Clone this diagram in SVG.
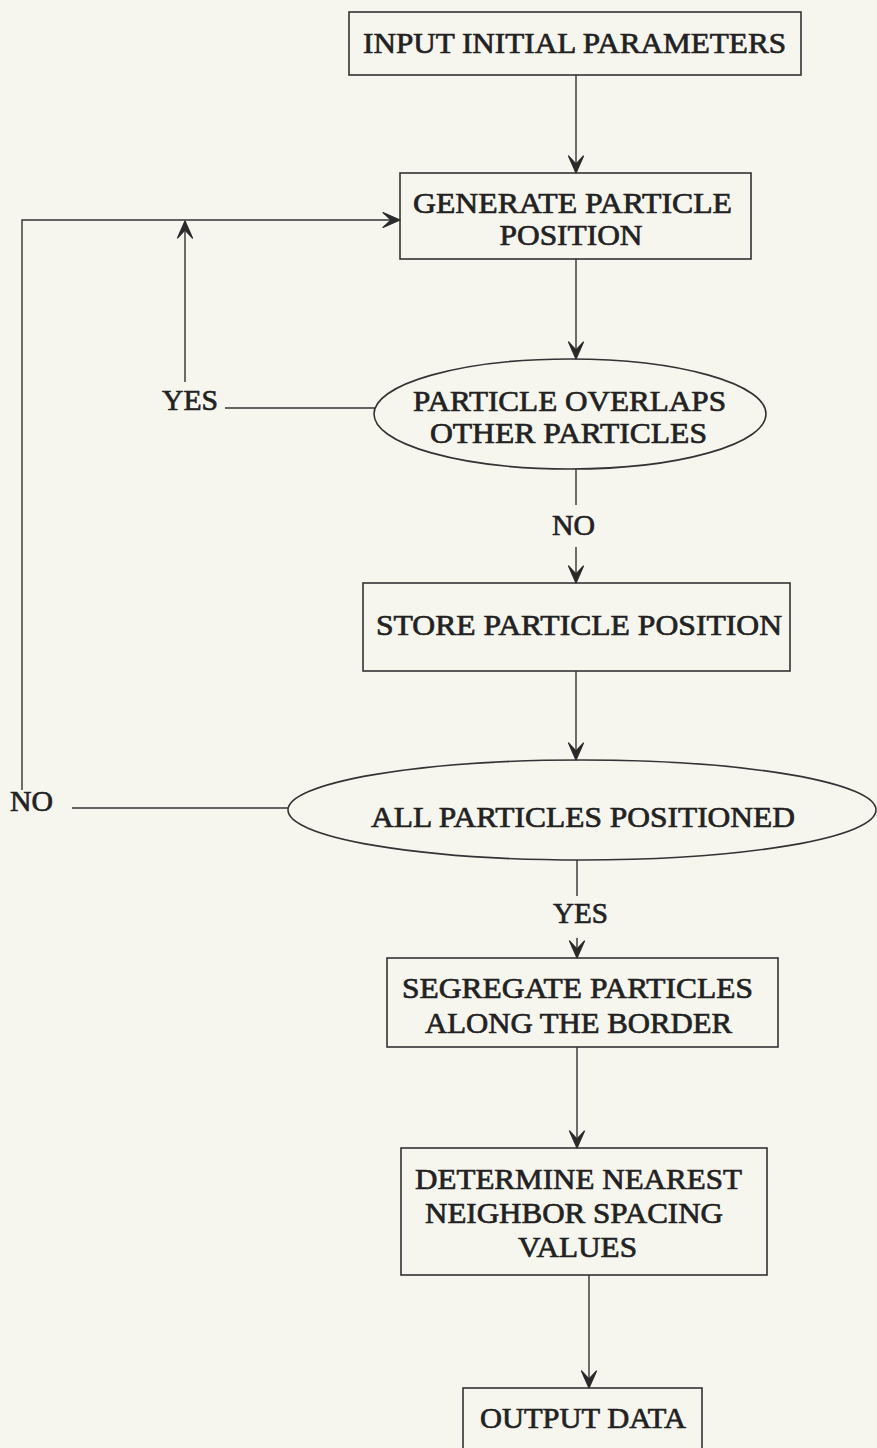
<svg xmlns="http://www.w3.org/2000/svg" width="877" height="1448" viewBox="0 0 877 1448">
<style>
.box{fill:none;stroke:#333;stroke-width:1.6}
.ln{fill:none;stroke:#333;stroke-width:1.4}
.t{font-family:"Liberation Serif","Times New Roman",serif;font-size:30px;fill:#222;stroke:#222;stroke-width:0.7;text-anchor:middle}
.tl{font-family:"Liberation Serif","Times New Roman",serif;font-size:30px;fill:#222;stroke:#222;stroke-width:0.7;text-anchor:start}
</style>
<defs>
<marker id="ah" viewBox="-20 -10 22 20" markerWidth="22" markerHeight="20" refX="0" refY="0" orient="auto-start-reverse" markerUnits="userSpaceOnUse">
<path d="M0,0 L-17,-7.5 L-10,-1 L-9,0 L-10,1 L-17,7.5 Z" fill="#2a2a2a" stroke="#2a2a2a" stroke-width="1.2" stroke-linejoin="round"/>
</marker>
</defs>
<rect x="0" y="0" width="877" height="1448" fill="#f6f5ee"/>
<g id="connectors">
<line class="ln" x1="576" y1="75" x2="576" y2="173" marker-end="url(#ah)"/>
<line class="ln" x1="576" y1="259" x2="576" y2="359" marker-end="url(#ah)"/>
<line class="ln" x1="225" y1="408" x2="375" y2="408"/>
<line class="ln" x1="185" y1="382" x2="185" y2="221" marker-end="url(#ah)"/>
<polyline class="ln" points="22,790 22,220 400,220" marker-end="url(#ah)"/>
<line class="ln" x1="576" y1="469" x2="576" y2="505"/>
<line class="ln" x1="576" y1="547" x2="576" y2="583" marker-end="url(#ah)"/>
<line class="ln" x1="576" y1="671" x2="576" y2="760" marker-end="url(#ah)"/>
<line class="ln" x1="72" y1="808" x2="288" y2="808"/>
<line class="ln" x1="577" y1="860" x2="577" y2="896"/>
<line class="ln" x1="577" y1="938" x2="577" y2="958" marker-end="url(#ah)"/>
<line class="ln" x1="577" y1="1047" x2="577" y2="1148" marker-end="url(#ah)"/>
<line class="ln" x1="589" y1="1275" x2="589" y2="1388" marker-end="url(#ah)"/>
<text class="tl" x="162" y="410" textLength="56" lengthAdjust="spacingAndGlyphs">YES</text>
<text class="t" x="573.5" y="535" textLength="43" lengthAdjust="spacingAndGlyphs">NO</text>
<text class="tl" x="10" y="811" textLength="43" lengthAdjust="spacingAndGlyphs">NO</text>
<text class="t" x="580.5" y="923" textLength="55" lengthAdjust="spacingAndGlyphs">YES</text>
</g>
<g id="input">
<rect class="box" x="349" y="12" width="452" height="63"/>
<text class="t" x="574.5" y="53" textLength="423" lengthAdjust="spacingAndGlyphs">INPUT INITIAL PARAMETERS</text>
</g>
<g id="generate">
<rect class="box" x="400" y="173" width="351" height="86"/>
<text class="t" x="572.5" y="213" textLength="319" lengthAdjust="spacingAndGlyphs">GENERATE PARTICLE</text>
<text class="t" x="571" y="245" textLength="143" lengthAdjust="spacingAndGlyphs">POSITION</text>
</g>
<g id="overlaps">
<ellipse class="box" cx="570" cy="414" rx="196" ry="55"/>
<text class="t" x="569.5" y="411" textLength="313" lengthAdjust="spacingAndGlyphs">PARTICLE OVERLAPS</text>
<text class="t" x="568.5" y="443" textLength="277" lengthAdjust="spacingAndGlyphs">OTHER PARTICLES</text>
</g>
<g id="store">
<rect class="box" x="363" y="583" width="427" height="88"/>
<text class="t" x="579" y="635" textLength="406" lengthAdjust="spacingAndGlyphs">STORE PARTICLE POSITION</text>
</g>
<g id="allpositioned">
<ellipse class="box" cx="582" cy="810" rx="294" ry="50"/>
<text class="t" x="583" y="827" textLength="424" lengthAdjust="spacingAndGlyphs">ALL PARTICLES POSITIONED</text>
</g>
<g id="segregate">
<rect class="box" x="387" y="958" width="391" height="89"/>
<text class="t" x="577.5" y="998" textLength="351" lengthAdjust="spacingAndGlyphs">SEGREGATE PARTICLES</text>
<text class="t" x="578.5" y="1033" textLength="307" lengthAdjust="spacingAndGlyphs">ALONG THE BORDER</text>
</g>
<g id="determine">
<rect class="box" x="401" y="1148" width="366" height="127"/>
<text class="t" x="578.5" y="1189" textLength="327" lengthAdjust="spacingAndGlyphs">DETERMINE NEAREST</text>
<text class="t" x="574" y="1223" textLength="298" lengthAdjust="spacingAndGlyphs">NEIGHBOR SPACING</text>
<text class="t" x="577.5" y="1257" textLength="119" lengthAdjust="spacingAndGlyphs">VALUES</text>
</g>
<g id="output">
<rect class="box" x="463" y="1388" width="239" height="80"/>
<text class="t" x="583" y="1428" textLength="206" lengthAdjust="spacingAndGlyphs">OUTPUT DATA</text>
</g>
</svg>
